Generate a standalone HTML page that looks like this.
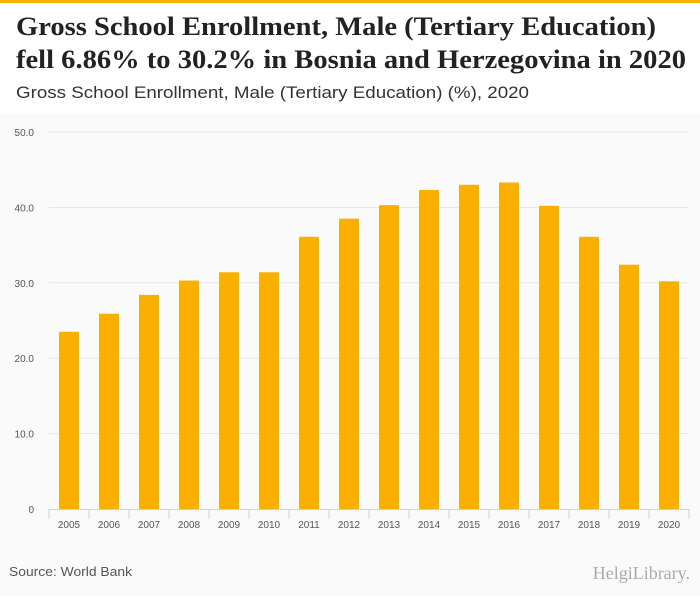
<!DOCTYPE html>
<html><head><meta charset="utf-8"><style>
body{margin:0;width:700px;height:596px;background:#fafafa;overflow:hidden;font-family:"Liberation Sans",sans-serif}
#top{position:absolute;left:0;top:0;width:700px;height:113px;background:#fff;border-top:3px solid #f5b000;box-sizing:border-box}
</style></head><body>
<div id="top">
<svg width="700" height="110" style="position:absolute;left:0;top:-3px">
<text x="16" y="35" font-family="Liberation Serif, serif" font-weight="bold" font-size="26" fill="#222" textLength="640" lengthAdjust="spacingAndGlyphs">Gross School Enrollment, Male (Tertiary Education)</text>
<text x="16" y="68" font-family="Liberation Serif, serif" font-weight="bold" font-size="26" fill="#222" textLength="670" lengthAdjust="spacingAndGlyphs">fell 6.86% to 30.2% in Bosnia and Herzegovina in 2020</text>
<text x="16" y="98" font-family="Liberation Sans, sans-serif" font-size="17" fill="#333" textLength="513" lengthAdjust="spacingAndGlyphs">Gross School Enrollment, Male (Tertiary Education) (%), 2020</text>
</svg>
</div>
<svg id="chart" width="700" height="596" style="position:absolute;left:0;top:0"></svg>
<script>
const years=["2005","2006","2007","2008","2009","2010","2011","2012","2013","2014","2015","2016","2017","2018","2019","2020"];
const values=[23.5,25.9,28.4,30.3,31.4,31.4,36.1,38.5,40.3,42.3,43.0,43.3,40.2,36.1,32.4,30.2];
const yTicks=[0,10,20,30,40,50];
const yTickLabels=["0","10.0","20.0","30.0","40.0","50.0"];
const svg=document.getElementById('chart');const NS='http://www.w3.org/2000/svg';
function y(v){return 509-v*7.54;}
function x(i){return 69+i*40;}
function mk(t,a,p){const e=document.createElementNS(NS,t);for(const k in a)e.setAttribute(k,a[k]);(p||svg).appendChild(e);return e;}
yTicks.forEach((t,i)=>{
 if(t>0){const l=mk('line',{x1:49,x2:689,y1:y(t),y2:y(t),stroke:'#e6e6e6'});
 
 }
 const tx=mk('text',{x:34,y:y(t)+4,'text-anchor':'end','font-size':10,fill:'#555'});tx.textContent=yTickLabels[i];
 
 
});
values.forEach((v,i)=>{
 const r=mk('rect',{x:x(i)-10,y:y(v),width:20,height:509-y(v),fill:'#f9b000'});
 
 
 const tx=mk('text',{x:x(i),y:528,'text-anchor':'middle','font-size':10,fill:'#555'});tx.textContent=years[i];
 
 
});
const ax=mk('line',{x1:49,x2:689,y1:509.5,y2:509.5,stroke:'#c8d4e6'});


for(let i=0;i<=years.length;i++){const t=mk('line',{x1:49+i*40,x2:49+i*40,y1:509,y2:519,stroke:'#c8d4e6'});
 
 }
const s=mk('text',{x:9,y:576,'font-size':13,fill:'#555',textLength:123,lengthAdjust:'spacingAndGlyphs'});s.textContent='Source: World Bank';


const lg=mk('text',{x:690,y:579,'text-anchor':'end','font-size':18,fill:'#aaa','font-family':'Liberation Serif, serif'});lg.textContent='HelgiLibrary.';


</script>
</body></html>
